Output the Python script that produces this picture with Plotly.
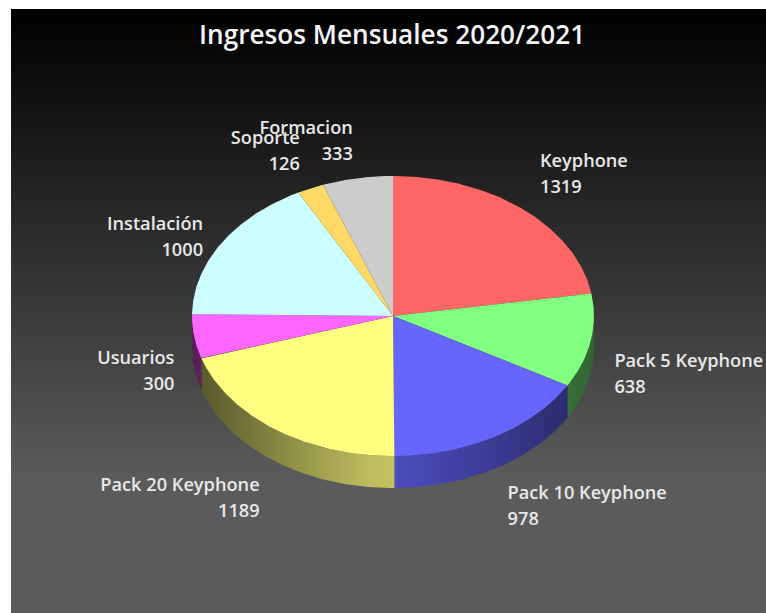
import numpy as np
import plotly.graph_objects as go

title = "Ingresos Mensuales 2020/2021"
categories = ["Keyphone", "Pack 5 Keyphone", "Pack 10 Keyphone", "Pack 20 Keyphone",
              "Usuarios", "Instalación", "Soporte", "Formacion"]
values = [1319, 638, 978, 1189, 300, 1000, 126, 333]
colors = ["#ff6666", "#80ff80", "#6666ff", "#ffff80", "#ff66ff", "#ccffff", "#ffd966", "#cccccc"]
rgb = [(255, 102, 102), (128, 255, 128), (102, 102, 255), (255, 255, 128),
       (255, 102, 255), (204, 255, 255), (255, 217, 102), (204, 204, 204)]

W, H = 766, 613
CX, CY, RX, RY, DEPTH = 393, 316, 201, 140, 32
LRX, LRY, LCY = 227, 204, 329
nudge = [(0, 2), (-2, 10), (0, 2), (0, 5), (6, 13), (4, 15), (0, 9), (0, 14)]
STEP = 26


def pt(a, dy=0):
    r = np.radians(a)
    return CX + RX * np.sin(r), CY - RY * np.cos(r) + dy


def shade(a):
    """brightness of the side wall at clockwise angle a (deg)"""
    s = np.sin(np.radians(a))
    return 0.8 - 0.47 * abs(s) if s < 0 else 0.76 - 0.37 * s


fig = go.Figure()

# background
fig.add_trace(go.Scatter(
    x=[11, W, W, 11, 11], y=[9, 9, H, H, 9], mode="lines", line=dict(width=0),
    fill="toself", hoverinfo="skip", showlegend=False,
    fillgradient=dict(type="vertical", start=9, stop=H,
                      colorscale=[[0, "#000000"], [0.78, "#5b5b5b"], [1, "#5b5b5b"]])))

total = sum(values)
edges = np.concatenate([[0], np.cumsum(values)]) / total * 360

# side walls
for i, (a0, a1) in enumerate(zip(edges[:-1], edges[1:])):
    lo, hi = max(a0, 90), min(a1, 270)
    if lo >= hi:
        continue
    t = np.linspace(lo, hi, 80)
    xt, yt = pt(t)
    xb, yb = pt(t, DEPTH)
    xs = np.concatenate([xt, xb[::-1], xt[:1]])
    ys = np.concatenate([yt, yb[::-1], yt[:1]])
    xmin, xmax = xs.min(), xs.max()
    probe = np.linspace(lo, hi, 12)
    px = pt(probe)[0]
    idx = np.argsort(px)
    scale = []
    for j in idx:
        b = shade(probe[j])
        c = "rgb(%d,%d,%d)" % tuple(int(v * b) for v in rgb[i])
        scale.append([float((px[j] - xmin) / (xmax - xmin)), c])
    scale[0][0] = 0.0
    scale[-1][0] = 1.0
    fig.add_trace(go.Scatter(
        x=xs, y=ys, mode="lines", line=dict(width=0), fill="toself",
        fillgradient=dict(type="horizontal", colorscale=scale),
        hoverinfo="skip", showlegend=False))

# top faces
for i, (a0, a1) in enumerate(zip(edges[:-1], edges[1:])):
    t = np.linspace(a0, a1, 120)
    x, y = pt(t)
    fig.add_trace(go.Scatter(
        x=np.concatenate([[CX], x, [CX]]), y=np.concatenate([[CY], y, [CY]]),
        mode="lines", line=dict(width=0), fill="toself", fillcolor=colors[i],
        name=categories[i], text=f"{categories[i]}: {values[i]}", hoverinfo="text",
        showlegend=False))

# labels
mids = (edges[:-1] + edges[1:]) / 2
for i in [7, 0, 1, 2, 3, 4, 5, 6]:
    r = np.radians(mids[i])
    lx = CX + LRX * np.sin(r) + nudge[i][0]
    ly = LCY - LRY * np.cos(r) + nudge[i][1]
    right = np.sin(r) > 0
    fig.add_trace(go.Scatter(
        x=[lx, lx], y=[ly - STEP / 2, ly + STEP / 2], mode="text",
        text=[categories[i], str(values[i])],
        textposition="middle right" if right else "middle left",
        textfont=dict(family="Open Sans", size=18.2, color="#e8e8e8", weight=600),
        hoverinfo="skip", showlegend=False))

fig.update_layout(
    width=W, height=H, margin=dict(l=0, r=0, t=0, b=0),
    paper_bgcolor="white", plot_bgcolor="white", showlegend=False,
    xaxis=dict(range=[0, W], visible=False, fixedrange=True),
    yaxis=dict(range=[H, 0], visible=False, fixedrange=True),
    annotations=[dict(x=392, y=34, xref="x", yref="y", text=title, showarrow=False,
                      font=dict(family="Open Sans", size=26.2, color="#f5f5f5", weight=600))],
)
fig.write_html("out.html", config={"displayModeBar": False},
               post_script="document.body.style.margin='0';document.body.style.overflow='hidden';")
